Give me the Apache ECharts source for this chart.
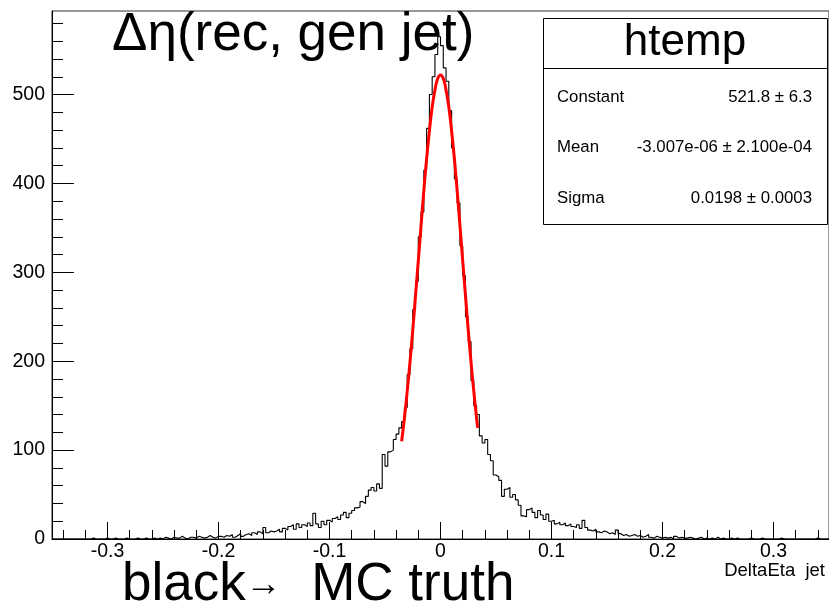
<!DOCTYPE html>
<html><head><meta charset="utf-8">
<script src="https://cdn.jsdelivr.net/npm/echarts@6/dist/echarts.min.js"></script>
<style>html,body{margin:0;padding:0;background:#fff}#c{width:829px;height:605px}</style>
</head><body><div id="c"></div>
<script>
// ---- data ----
const xMin = -0.35, xMax = 0.35, binWidth = 0.0025;
const yMax = 594;
const counts = [
  0,0,0,0,0,0,0,0,0,0,
  0,0,0,0,1,0,0,0,0,1,
  0,0,1,0,0,0,1,0,0,0,
  1,0,0,1,0,0,1,0,1,0,
  2,1,0,2,1,1,3,1,0,2,
  2,1,3,2,1,2,4,2,1,3,
  3,2,4,3,5,2,4,6,3,5,
  6,4,7,5,8,6,13,7,9,8,
  9,11,8,12,10,14,16,11,17,13,
  16,14,18,15,29,17,13,20,16,21,
  19,23,25,22,27,30,24,29,32,35,
  36,42,40,48,55,58,54,62,57,95,
  82,98,100,112,118,125,
  132,148,185,214,258,290,340,368,415,462,500,520,545,565,
  555,530,515,482,440,405,378,330,296,250,222,178,150,140,
  116,108,112,95,88,72,
  70,66,48,56,58,47,50,44,38,26,
  25,33,35,30,24,32,27,22,28,20,
  21,17,19,16,18,15,17,14,13,16,
  12,21,13,10,9,11,8,7,9,8,
  6,7,5,10,6,4,5,3,4,5,
  3,4,2,3,5,2,1,3,2,1,
  2,1,2,0,3,1,2,1,1,2,
  1,0,1,2,0,1,0,1,0,2,
  0,1,0,0,1,0,1,0,0,0,
  0,1,0,0,0,1,0,0,0,0,
  0,0,1,0,0,0,0,0,0,0,
  0,0,0,0,0,1,0,0,0,0
];
const fitX = [-0.035,-0.0325,-0.03,-0.0275,-0.025,-0.0225,-0.02,-0.0175,-0.015,-0.0125,-0.01,-0.0075,-0.005,-0.0025,0,
              0.0025,0.005,0.0075,0.01,0.0125,0.015,0.0175,0.02,0.0225,0.025,0.0275,0.03,0.0325,0.0335];
const fitY = [110,136,166,199,235,274,313,353,392,428,459,486,505,518,522,
              518,505,486,459,428,392,353,313,274,235,199,166,136,125];
const xMajorTicks = [-0.3,-0.2,-0.1,0,0.1,0.2,0.3];
const xMinorTicks = [-0.34,-0.32,-0.28,-0.26,-0.24,-0.22,-0.18,-0.16,-0.14,-0.12,-0.08,-0.06,-0.04,-0.02,
                     0.02,0.04,0.06,0.08,0.12,0.14,0.16,0.18,0.22,0.24,0.26,0.28,0.32,0.34];
const yMajorTicks = [0,100,200,300,400,500];
const yMinorTicks = [20,40,60,80,120,140,160,180,220,240,260,280,320,340,360,380,420,440,460,480,520,540,560,580];
const statsTitle = 'htemp';
const statsRows = [['Constant','521.8 \u00b1 6.3'],['Mean','-3.007e-06 \u00b1 2.100e-04'],['Sigma','0.0198 \u00b1 0.0003']];

// ---- build ----
const FONT = '"Liberation Sans", Arial, sans-serif';
const histData = counts.map((v,i)=>[xMin + i*binWidth, v]);
histData.push([xMax, counts[counts.length-1]]);
const fitData = fitX.map((x,i)=>[x, fitY[i]]);

const chart = echarts.init(document.getElementById('c'), null, {renderer:'canvas'});
const blk = '#000';
function xAxisBase(){return {type:'value', min:xMin, max:xMax, gridIndex:0, position:'bottom', splitLine:{show:false}};}
function yAxisBase(){return {type:'value', min:0, max:yMax, gridIndex:0, position:'left', splitLine:{show:false}};}
chart.setOption({
  animation:false,
  backgroundColor:'#fff',
  grid:{left:52, top:11, width:779, height:528, show:true, borderColor:'#333', borderWidth:1, backgroundColor:'transparent'},
  xAxis:[
    Object.assign(xAxisBase(), {
      axisLine:{show:true, onZero:false, lineStyle:{color:blk, width:1}},
      axisTick:{show:true, inside:true, length:17, customValues:xMajorTicks, lineStyle:{color:blk, width:1}},
      axisLabel:{show:true, customValues:xMajorTicks, color:blk, fontSize:19.5, fontFamily:FONT, margin:3,
        formatter:v=> (Math.abs(v)<1e-9 ? '0' : v.toFixed(1))}
    }),
    Object.assign(xAxisBase(), {
      axisLine:{show:false, onZero:false},
      axisTick:{show:true, inside:true, length:9, customValues:xMinorTicks, lineStyle:{color:blk, width:1}},
      axisLabel:{show:false}
    })
  ],
  yAxis:[
    Object.assign(yAxisBase(), {
      axisLine:{show:true, onZero:false, lineStyle:{color:blk, width:1}},
      axisTick:{show:true, inside:true, length:22, customValues:yMajorTicks, lineStyle:{color:blk, width:1}},
      axisLabel:{show:true, customValues:yMajorTicks, color:blk, fontSize:19.5, fontFamily:FONT, margin:7}
    }),
    Object.assign(yAxisBase(), {
      axisLine:{show:false, onZero:false},
      axisTick:{show:true, inside:true, length:11, customValues:yMinorTicks, lineStyle:{color:blk, width:1}},
      axisLabel:{show:false}
    })
  ],
  series:[
    {type:'line', name:'htemp', xAxisIndex:0, yAxisIndex:0, data:histData, step:'end', showSymbol:false, symbol:'none',
     lineStyle:{color:'#000', width:1.1}, z:3},
    {type:'line', name:'gaus', xAxisIndex:0, yAxisIndex:0, data:fitData, smooth:true, showSymbol:false, symbol:'none',
     lineStyle:{color:'#ff0000', width:3}, z:4}
  ],
  graphic:[
    {type:'text', x:112, y:35, z:10, style:{text:'\u0394\u03b7(rec, gen jet)', fontSize:53, fontFamily:FONT, fill:'#000', align:'left', verticalAlign:'middle'}},
    {type:'text', x:122, y:585, z:10, style:{text:'{a|black}{b|\u2192}{a|  MC truth}', fontFamily:FONT, fill:'#000', align:'left', verticalAlign:'middle',
      rich:{a:{fontSize:53, fontFamily:FONT, fill:'#000'}, b:{fontSize:36, fontFamily:FONT, fill:'#000'}}}},
    {type:'text', x:825, y:571, z:10, style:{text:'DeltaEta  jet', fontSize:18.5, fontFamily:FONT, fill:'#000', align:'right', verticalAlign:'middle'}},
    {type:'group', z:20, children:[
      {type:'rect', shape:{x:543.5, y:18.5, width:284, height:206}, style:{fill:'#fff', stroke:'#000', lineWidth:1}},
      {type:'line', shape:{x1:543.5, y1:68.5, x2:827.5, y2:68.5}, style:{stroke:'#000', lineWidth:1}},
      {type:'text', x:685, y:43, style:{text:statsTitle, fontSize:44, fontFamily:FONT, fill:'#000', align:'center', verticalAlign:'middle'}},
      ...statsRows.flatMap((r,i)=>[
        {type:'text', x:557, y:97+i*50.5, style:{text:r[0], fontSize:16.8, fontFamily:FONT, fill:'#000', align:'left', verticalAlign:'middle'}},
        {type:'text', x:812, y:97+i*50.5, style:{text:r[1], fontSize:16.8, fontFamily:FONT, fill:'#000', align:'right', verticalAlign:'middle'}}
      ])
    ]}
  ]
});
</script></body></html>
